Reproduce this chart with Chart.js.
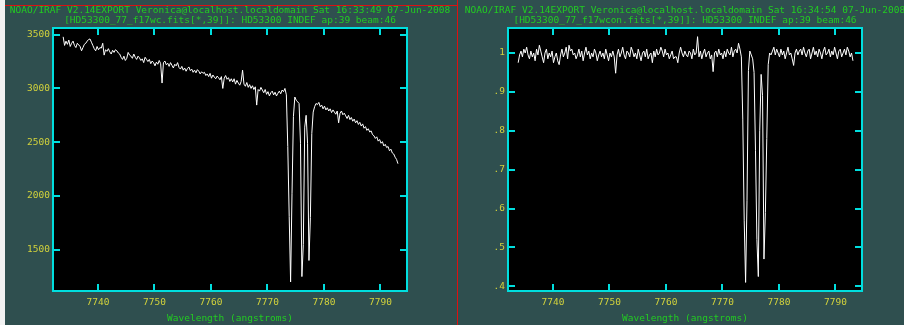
<!DOCTYPE html>
<html>
<head>
<meta charset="utf-8">
<title>IRAF splot</title>
<script src="https://cdn.jsdelivr.net/npm/chart.js@4.4.0/dist/chart.umd.min.js"></script>
<style>
    html, body {
        margin: 0;
        padding: 0;
    }

    body {
        position: relative;
        width: 904px;
        height: 325px;
        overflow: hidden;
        background: #2f4f4f;
        font-family: "DejaVu Sans Mono", monospace;
    }

    canvas {
        position: absolute;
        top: 0;
        z-index: 1;
    }

    .strip {
        position: absolute;
        left: 0;
        top: 0;
        width: 5px;
        height: 325px;
        background: #f2f2f2;
        z-index: 3;
    }

    .red-h {
        position: absolute;
        left: 5px;
        top: 5px;
        width: 453px;
        height: 1px;
        background: #dd1111;
        z-index: 3;
    }

    .red-v {
        position: absolute;
        left: 457px;
        top: 0;
        width: 1px;
        height: 325px;
        background: #dd1111;
        z-index: 3;
    }

    .title {
        position: absolute;
        width: 600px;
        color: #22cc22;
        font-size: 9.5px;
        line-height: 10px;
        white-space: nowrap;
        text-align: center;
        z-index: 2;
    }
</style>
</head>
<body>
<canvas id="leftChart" width="458" height="325" style="left:0"></canvas>
<canvas id="rightChart" width="446" height="325" style="left:458px"></canvas>

<div class="title" style="left:-70px; top:5px">NOAO/IRAF V2.14EXPORT Veronica@localhost.localdomain Sat 16:33:49 07-Jun-2008</div>
<div class="title" style="left:-70px; top:15px">[HD53300_77_f17wc.fits[*,39]]: HD53300 INDEF ap:39 beam:46</div>
<div class="title" style="left:385px; top:5px">NOAO/IRAF V2.14EXPORT Veronica@localhost.localdomain Sat 16:34:54 07-Jun-2008</div>
<div class="title" style="left:385px; top:15px">[HD53300_77_f17wcon.fits[*,39]]: HD53300 INDEF ap:39 beam:46</div>

<div class="strip"></div>
<div class="red-h"></div>
<div class="red-v"></div>

<script>
// dispersion of the extracted aperture (first pixel, angstroms per pixel)
const WAVE_START = 7733.85;
const WAVE_STEP = 0.25;

// x axis, same for both windows
const xRange = [7732.05, 7794.7];
const xTickStep = 10;

// left window: wavelength calibrated spectrum (counts), 20 pixels per row
const fluxCounts = [
    3480, 3400, 3440, 3410, 3450, 3390, 3420, 3440, 3400, 3380, 3420, 3405, 3390, 3350, 3380, 3410, 3420, 3440, 3455, 3460,
    3430, 3400, 3370, 3350, 3390, 3360, 3380, 3375, 3420, 3310, 3360, 3345, 3370, 3340, 3320, 3355, 3335, 3360, 3350, 3330,
    3320, 3290, 3270, 3300, 3260, 3280, 3335, 3310, 3300, 3280, 3320, 3290, 3270, 3300, 3285, 3260, 3275, 3240, 3290, 3270,
    3250, 3270, 3230, 3255, 3240, 3210, 3245, 3225, 3260, 3230, 3050, 3240, 3255, 3220, 3235, 3205, 3240, 3215, 3190, 3225,
    3210, 3240, 3195, 3180, 3205, 3170, 3190, 3160, 3185, 3200, 3165, 3180, 3150, 3170, 3145, 3175, 3160, 3135, 3155, 3140,
    3150, 3120, 3135, 3110, 3140, 3095, 3125, 3105, 3090, 3115, 3100, 3080, 3110, 3000, 3095, 3120, 3085, 3100, 3065, 3090,
    3060, 3090, 3040, 3075, 3050, 3030, 3065, 3170, 3040, 3020, 3055, 3010, 3035, 3000, 3025, 2990, 3015, 2845, 2990, 2975,
    3010, 2985, 2960, 2990, 2945, 2970, 2930, 2960, 2975, 2940, 2965, 2930, 2955, 2975, 2950, 2985, 2970, 3000, 2940, 2460,
    1810, 1200, 2020, 2740, 2920, 2890, 2875, 2860, 2490, 1250, 1550, 2640, 2750, 2490, 1400, 1800, 2580, 2780, 2830, 2860,
    2850, 2870, 2830, 2845, 2810, 2835, 2800, 2820, 2790, 2810, 2775, 2800, 2780, 2760, 2790, 2680, 2770, 2790, 2755, 2770,
    2745, 2720, 2750, 2710, 2730, 2695, 2715, 2680, 2700, 2665, 2685, 2650, 2670, 2630, 2645, 2610, 2625, 2595, 2605, 2570,
    2560, 2535, 2550, 2510, 2525, 2490, 2505, 2465, 2480, 2450, 2460, 2420, 2435, 2400, 2390, 2360, 2340, 2300,
];
const countsRange = [1116, 3562];
const countsTicks = [1500, 2000, 2500, 3000, 3500];

// right window: continuum normalised spectrum
const fluxNorm = [
    0.975, 0.995, 1.005, 0.99, 1.01, 1.0, 1.015, 0.995, 0.985, 1.005, 0.99, 1.0, 0.98, 1.01, 0.995, 1.02, 1.005, 0.99, 0.975, 1.0,
    1.01, 0.985, 1.0, 0.99, 1.005, 0.975, 0.99, 1.0, 0.98, 0.97, 0.995, 1.01, 0.99, 1.0, 1.015, 0.985, 1.02, 1.005, 1.01, 0.995,
    1.0, 0.985, 0.995, 1.01, 0.99, 1.005, 0.98, 1.0, 1.015, 0.995, 1.005, 0.985, 1.0, 0.99, 1.01, 1.0, 0.98, 0.995, 1.005, 0.99,
    1.0, 0.985, 1.01, 0.995, 0.98, 1.0, 0.99, 1.005, 0.99, 0.948, 0.995, 1.01, 0.99, 1.0, 1.015, 0.995, 0.985, 1.005, 1.0, 0.99,
    1.015, 1.005, 0.99, 1.0, 0.985, 1.01, 0.995, 0.98, 1.0, 1.005, 0.99, 1.01, 0.985, 0.995, 1.0, 0.975, 1.005, 0.99, 1.01, 0.995,
    1.0, 1.015, 1.005, 0.99, 1.01, 0.995, 1.0, 0.985, 0.995, 1.005, 0.985, 0.99, 0.99, 0.975, 1.0, 1.015, 1.0, 0.99, 1.005, 0.995,
    0.99, 1.005, 1.0, 0.985, 1.01, 0.995, 1.0, 1.042, 0.99, 1.005, 0.985, 1.0, 1.01, 0.99, 1.0, 1.005, 0.985, 0.995, 0.952, 1.0,
    1.005, 0.99, 1.01, 0.995, 1.0, 0.985, 1.005, 0.99, 1.01, 1.0, 0.995, 1.015, 0.99, 1.005, 1.01, 1.0, 1.025, 1.01, 0.99, 0.83,
    0.57, 0.41, 0.62, 0.955, 1.005, 0.995, 0.985, 0.95, 0.75, 0.52, 0.425, 0.80, 0.945, 0.89, 0.47, 0.59, 0.78, 0.97, 1.0, 0.995,
    1.005, 1.015, 0.995, 1.01, 1.0, 0.99, 1.01, 0.995, 1.005, 0.985, 1.0, 1.015, 0.995, 1.0, 0.985, 0.968, 1.0, 1.01, 0.995, 1.005,
    1.01, 0.995, 1.015, 1.0, 0.99, 1.005, 1.01, 0.985, 1.0, 1.015, 0.995, 1.005, 0.99, 1.01, 1.0, 0.985, 1.005, 1.015, 0.995, 1.0,
    1.01, 0.99, 1.005, 0.995, 1.015, 1.0, 0.985, 1.005, 1.01, 0.99, 1.0, 1.01, 0.995, 1.015, 1.005, 0.99, 1.0, 0.98,
];
const normRange = [0.3879, 1.0643];
const normTicks = [0.4, 0.5, 0.6, 0.7, 0.8, 0.9, 1.0];

const CYAN = "#00dede";
const YELLOW = "#d2d23c";
const GREEN = "#22cc22";
const FONT = { family: "DejaVu Sans Mono", size: 9.5 };

// black plot window with the cyan box and inward tick marks
const irafFrame = {
    id: "irafFrame",
    beforeDraw(chart) {
        const { ctx, chartArea: a } = chart;
        ctx.save();
        ctx.fillStyle = "#000";
        ctx.fillRect(a.left, a.top, a.right - a.left, a.bottom - a.top);
        ctx.restore();
    },
    afterDraw(chart) {
        const { ctx, chartArea: a, scales } = chart;
        const len = 7;
        ctx.save();
        ctx.strokeStyle = CYAN;
        ctx.lineWidth = 2;
        ctx.beginPath();
        scales.x.ticks.forEach((t) => {
            const px = Math.round(scales.x.getPixelForValue(t.value));
            ctx.moveTo(px, a.bottom);
            ctx.lineTo(px, a.bottom - len);
            ctx.moveTo(px, a.top);
            ctx.lineTo(px, a.top + len);
        });
        scales.y.ticks.forEach((t) => {
            const py = Math.round(scales.y.getPixelForValue(t.value));
            ctx.moveTo(a.left, py);
            ctx.lineTo(a.left + len, py);
            ctx.moveTo(a.right, py);
            ctx.lineTo(a.right - len, py);
        });
        ctx.stroke();
        ctx.strokeRect(a.left, a.top, a.right - a.left, a.bottom - a.top);
        ctx.restore();
    },
};

const toPoints = (flux) =>
    flux.map((v, i) => ({ x: WAVE_START + i * WAVE_STEP, y: v }));

function makePlot(id, flux, yRange, yTicks, yLabel, yWidth, rightPad) {
    const ctx = document.getElementById(id).getContext("2d");
    return new Chart(ctx, {
        type: "line",
        data: {
            datasets: [
                {
                    data: toPoints(flux),
                    borderColor: "#ffffff",
                    borderWidth: 1,
                    pointRadius: 0,
                    tension: 0,
                    fill: false,
                },
            ],
        },
        options: {
            responsive: false,
            animation: false,
            devicePixelRatio: 1,
            events: [],
            layout: { padding: { left: 0, right: rightPad, top: 28, bottom: 0 } },
            plugins: {
                legend: { display: false },
                tooltip: { enabled: false },
            },
            scales: {
                x: {
                    type: "linear",
                    min: xRange[0],
                    max: xRange[1],
                    afterFit: (s) => {
                        s.height = 34;
                    },
                    border: { display: false },
                    grid: { display: false, drawTicks: false },
                    ticks: {
                        stepSize: xTickStep,
                        includeBounds: false,
                        autoSkip: false,
                        maxRotation: 0,
                        padding: 6,
                        color: YELLOW,
                        font: FONT,
                        callback: (v) => String(v),
                    },
                    title: {
                        display: true,
                        text: "Wavelength (angstroms)",
                        color: GREEN,
                        font: FONT,
                        padding: { top: 0, bottom: 1 },
                    },
                },
                y: {
                    type: "linear",
                    min: yRange[0],
                    max: yRange[1],
                    afterFit: (s) => {
                        s.width = yWidth;
                    },
                    afterBuildTicks: (s) => {
                        s.ticks = yTicks.map((v) => ({ value: v }));
                    },
                    border: { display: false },
                    grid: { display: false, drawTicks: false },
                    ticks: {
                        autoSkip: false,
                        padding: 3,
                        color: YELLOW,
                        font: FONT,
                        callback: yLabel,
                    },
                },
            },
        },
        plugins: [irafFrame],
    });
}

makePlot("leftChart", fluxCounts, countsRange, countsTicks, (v) => String(v), 53, 51);
makePlot("rightChart", fluxNorm, normRange, normTicks, (v) => {
    const s = v.toFixed(1);
    return s === "1.0" ? "1" : s.replace(/^0/, "");
}, 50, 42);
</script>
</body>
</html>
